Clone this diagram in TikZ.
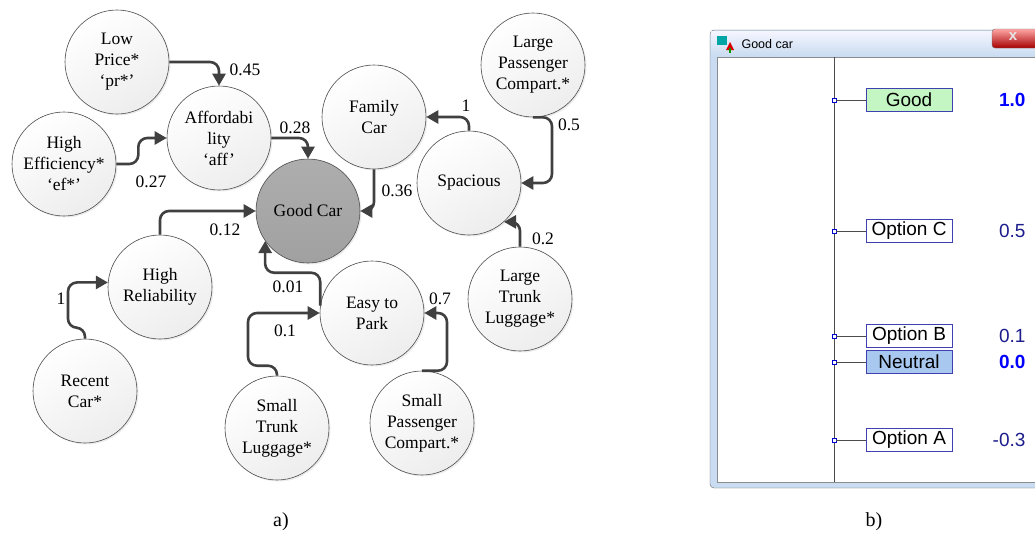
\documentclass[tikz,border=0pt]{standalone}
\usepackage{fontspec}
\setmainfont{Liberation Serif}
\newfontfamily\winfont{Liberation Sans}
\usetikzlibrary{arrows.meta}
\usetikzlibrary{shadows}

\begin{document}
\begin{tikzpicture}[x=1pt,y=-1pt,
    factor/.style={circle, minimum size=104pt, inner sep=0pt, align=center,
      draw=black!70, line width=0.6pt, top color=white, bottom color=black!7,
      shading angle=30,
      drop shadow={shadow xshift=1.5pt, shadow yshift=-1.5pt, opacity=0.15},
      font=\fontsize{17.5}{21}\selectfont},
    weight/.style={font=\fontsize{17.5}{21}\selectfont, inner sep=1pt},
    link/.style={draw=black!75, line width=2.6pt, rounded corners=9pt,
      -{Triangle[length=12pt,width=13pt]}},
    option/.style={draw=boxblue, line width=0.8pt, minimum width=86pt,
      minimum height=23pt, inner sep=0pt,
      font=\winfont\fontsize{19}{20}\selectfont},
    tick/.style={draw=blue!80!black, fill=white, line width=0.6pt,
      minimum size=4pt, inner sep=0pt}
  ]
  \definecolor{boxblue}{HTML}{4040B0}
  \definecolor{goodgreen}{HTML}{C4F6C4}
  \definecolor{neutralblue}{HTML}{A8C8F0}
  \definecolor{winframe}{HTML}{C9DCF1}
  \definecolor{valblue}{HTML}{0000FF}
  \definecolor{valnavy}{HTML}{1C1C8C}
  \useasboundingbox (0,0) rectangle (1035,533);

  % a) Bewertungsnetz
  \node[factor] (lowprice) at (117,62) {Low\\Price*\\‘pr*’};
  \node[factor] (higheff) at (64,164) {High\\Efficiency*\\‘ef*’};
  \node[factor] (afford) at (219,138) {Affordabi\\lity\\‘aff’};
  \node[factor] (famcar) at (374,117) {Family\\Car};
  \node[factor] (spacious) at (469,183) {Spacious};
  \node[factor] (largepass) at (533,65) {Large\\Passenger\\Compart.*};
  \node[factor] (largetrunk) at (520,299) {Large\\Trunk\\Luggage*};
  \node[factor] (highrel) at (160,287) {High\\Reliability};
  \node[factor] (easypark) at (372,313) {Easy to\\Park};
  \node[factor] (recent) at (85,391) {Recent\\Car*};
  \node[factor] (smalltrunk) at (277,428) {Small\\Trunk\\Luggage*};
  \node[factor] (smallpass) at (422,423) {Small\\Passenger\\Compart.*};
  \node[factor, top color=black!32, bottom color=black!37] (goodcar) at (308,211) {Good Car};

  \draw[link] (lowprice.east) -| (afford.north);
  \draw[link] (higheff.east) -- ++(22,0) |- (afford.west);
  \draw[link] (afford.east) -| (goodcar.north);
  \draw[link] (highrel.north) |- (goodcar.west);
  \draw[link] (famcar.south) |- (goodcar.east);
  \draw[link] (spacious.north) |- (famcar.east);
  \draw[link] (largepass.south) -- ++(19,0) |- (spacious.east);
  \draw[link] (largetrunk.north) |- (spacious.-48);
  \draw[link] (easypark.172) -- ++(0,-33) -| (goodcar.-145);
  \draw[link] (smalltrunk.north) -- ++(0,-10) -- ++(-29,0) |- (easypark.west);
  \draw[link] (smallpass.north) -- ++(25,0) |- (easypark.east);
  \draw[link] (recent.north) -- ++(0,-11) -- ++(-17,0) |- (highrel.175);

  \foreach \name/\x/\y/\w in
  {
    wpr/245/70/0.45, wef/151/182/0.27, waff/295/128/0.28, wrel/225/230/0.12,
    wfam/397/191/0.36, wspa/466/106/1, wlp/569/125/0.5, wlt/543/239/0.2,
    wpark/288/287/0.01, wst/285/331/0.1, wsp/440/299/0.7, wrec/61/299/1}
  {
    \node[weight] (\name) at (\x,\y) {\w};
  };
  \node (capa) at (281,522) {\fontsize{20}{20}\selectfont a)};

  % b) Fenster
  \draw[fill=winframe, draw=black!60, rounded corners=4pt] (710,30) rectangle (1045,488);
  \shade[top color=blue!4!white, bottom color=winframe] (711,31) rectangle (1044,56);
  \draw[fill=white, draw=black!45] (717,57) rectangle (1045,482);
  \draw[rounded corners=3pt, draw=black!55, top color=red!35!white, bottom color=red!65!black]
    (992,29) rectangle (1045,48);
  \node (closex) at (1013,37) {\color{black!10}\winfont\bfseries\fontsize{15}{15}\selectfont x};
  \fill[teal!70!cyan] (717,36) rectangle (727,45);  %Symbol
  \fill[red!85!black] (726,50) -- (730,42) -- (734,50) -- cycle;
  \fill[green!60!black] (729,48) rectangle (731,53);
  \node[anchor=west] (title) at (738,44) {\winfont\fontsize{12.5}{14}\selectfont Good car};

  \draw[black!70, line width=0.9pt] (834,57) -- (834,482);  %Skala
  \foreach \name/\y/\txt/\boxfill/\val/\valcol/\ser in
  {
    good/100/Good/goodgreen/1.0/valblue/b,
    optc/231/Option C/white/0.5/valnavy/m,
    optb/336/Option B/white/0.1/valnavy/m,
    neutral/362/Neutral/neutralblue/0.0/valblue/b,
    opta/440/Option A/white/-0.3/valnavy/m}
  {
    \node[tick] (t\name) at (834,\y) {};
    \node[option, fill=\boxfill] (\name) at (909,\y) {\txt};
    \draw[black!70, line width=0.8pt] (t\name) -- (\name);
    \node[anchor=east, text=\valcol] (v\name) at (1029,\y)
      {\winfont\fontseries{\ser}\fontsize{19}{20}\selectfont\val};
  };
  \node (capb) at (874,522) {\fontsize{20}{20}\selectfont b)};
\end{tikzpicture}
\end{document}
